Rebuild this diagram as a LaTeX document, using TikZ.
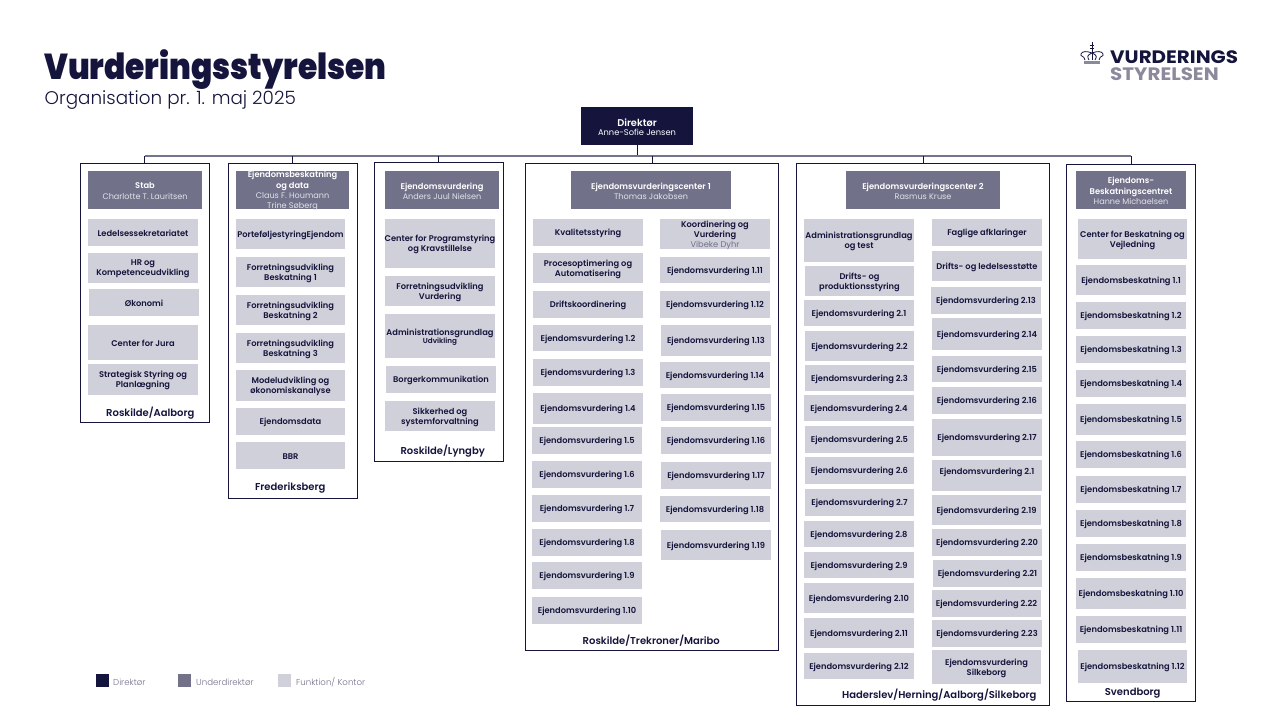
\documentclass[tikz,border=0pt]{standalone}
\usepackage{fontspec}
\setmainfont{Poppins}
\newfontfamily\fmed{Poppins SemiBold}
\newfontfamily\freg{Poppins}
\newfontfamily\flight{Poppins Light}
\newfontfamily\fbig{Poppins Black}[FakeStretch=0.868]
\newfontfamily\flogo{Poppins Bold}[FakeStretch=1.105]
\definecolor{navy}{HTML}{14143C}
\definecolor{midc}{HTML}{71718A}
\definecolor{lightc}{HTML}{D0D0DA}
\definecolor{namec}{HTML}{E2E2E9}
\definecolor{buscol}{HTML}{74748E}
\definecolor{logogrey}{HTML}{8A8A9C}
% a filled box, then its text lowered a little, as the reference has it
\newcommand\bxn[7]{\node[#1,minimum width={(#5-#3)*1pt},minimum height={(#6-#4)*1pt}] (#2) at ({(#3+#5)/2},{(#4+#6)/2}) {};
  \node[#1,fill=none,yshift=-1pt] (#2t) at (#2.center) {#7};}
\newcommand\bx[6]{\bxn{#1}{#1#2x#3}{#2}{#3}{#4}{#5}{#6}}
\newcommand\frm[5]{\node[frame,minimum width={(#4-#2)*1pt},minimum height={(#5-#3)*1pt}] (#1) at ({(#2+#4)/2},{(#3+#5)/2}) {};}
\newcommand\nm[1]{{\freg\fontsize{8.1}{10}\selectfont\color{namec}#1}}
\tikzset{
  fbox/.style={fill=lightc,text=navy,inner sep=0pt,align=center,font=\fmed\fontsize{8.3}{10}\selectfont},
  hbox/.style={fill=midc,text=white,inner sep=0pt,align=center,font=\fmed\fontsize{8.3}{10.3}\selectfont},
  dbox/.style={fill=navy,text=white,inner sep=0pt,align=center,font=\fmed\fontsize{9.8}{10.5}\selectfont},
  frame/.style={draw=navy,line width=1pt,fill=white,inner sep=0pt},
  place/.style={text=navy,inner sep=0pt,yshift=-.7pt,font=\fmed\fontsize{10}{12}\selectfont},
  legtxt/.style={text=midc,anchor=west,inner sep=0pt,font=\flight\fontsize{8.6}{9}\selectfont},
  stem/.style={draw=navy,line width=.9pt},
  busline/.style={draw=buscol,line width=1.3pt}
}
\begin{document}
\begin{tikzpicture}[x=1pt,y=-1pt]
\useasboundingbox (0,0) rectangle (1280,720);
\coordinate (bus) at (640,156);

% title
\node[anchor=base west,inner sep=0pt,text=navy,font=\fbig\fontsize{36}{38}\selectfont] (title) at (44,79) {Vurderingsstyrelsen};
\node[anchor=base west,inner sep=0pt,text=navy,font=\flight\fontsize{18.35}{20}\selectfont] (sub) at (44.5,104) {Organisation pr. 1. maj 2025};

% logo
\node[anchor=base west,inner sep=0pt,text=navy,font=\flogo\fontsize{18}{18}\selectfont] (logoa) at (1110,63.5) {VURDERINGS};
\node[anchor=base west,inner sep=0pt,text=logogrey,font=\flogo\fontsize{18}{18}\selectfont] (logob) at (1110,80) {STYRELSEN};
\draw[navy,line width=.8pt] (1085,60) .. controls (1084,55) and (1080,57) .. (1081,54) .. controls (1082,51) and (1087,51) .. (1092,53) .. controls (1097,51) and (1102,51) .. (1103,54) .. controls (1104,57) and (1100,55) .. (1099,60);
\draw[navy,line width=.8pt] (1089,60) .. controls (1087,57) and (1087,55) .. (1092,53) .. controls (1097,55) and (1097,57) .. (1095,60);
\draw[navy,line width=.8pt] (1092,42) -- (1092,60) (1090,45) -- (1094,45) (1090,48.5) -- (1094,48.5);
\fill[logogrey] (1084,60.5) rectangle (1100,64);

% frames
\frm{c1}{80}{163.5}{209.7}{422.5}
\frm{c2}{228.3}{163.5}{357.3}{498.7}
\frm{c3}{374.3}{162.5}{503.3}{461.5}
\frm{c4}{525.5}{163.5}{778.7}{650.5}
\frm{c5}{796.7}{163.5}{1049.7}{705.7}
\frm{c6}{1066.3}{164.5}{1195.7}{701.7}

% director
\bxn{dbox}{dir}{581}{107}{693}{145}{Direktør\\[-1pt]{\freg\fontsize{8.3}{10}\selectfont Anne-Sofie Jensen}}

% connectors
\draw[stem] (dir.south) -- (dir.south |- bus);
\draw[busline] (c1.north |- bus) -- (c6.north |- bus);
\foreach \c in {c1,c2,c3,c4,c5,c6} \draw[stem] (\c.north) -- (\c.north |- bus);

% heads
\bx{hbox}{88}{171}{202}{209}{Stab\\\nm{Charlotte T. Lauritsen}}
\bx{hbox}{236}{171}{349}{209}{Ejendomsbeskatning\\og data\\\nm{Claus F. Houmann}\\\nm{Trine Søberg}}
\bx{hbox}{385}{171}{499}{209}{Ejendomsvurdering\\\nm{Anders Juul Nielsen}}
\bx{hbox}{571}{171}{731}{209}{Ejendomsvurderingscenter 1\\\nm{Thomas Jakobsen}}
\bx{hbox}{846}{171}{1000}{209}{Ejendomsvurderingscenter 2\\\nm{Rasmus Kruse}}
\bx{hbox}{1076}{171}{1186}{209}{Ejendoms-\\Beskatningscentret\\\nm{Hanne Michaelsen}}

% column 1
\bx{fbox}{88}{219}{198}{246}{Ledelsessekretariatet}
\bx{fbox}{88}{253}{198}{283}{HR og\\Kompetenceudvikling}
\bx{fbox}{89}{289}{199}{316}{Økonomi}
\bx{fbox}{88}{325}{198}{360}{Center for Jura}
\bx{fbox}{88}{364}{198}{395}{Strategisk Styring og\\Planlægning}
\node[place] (p1) at (150.3,412) {Roskilde/Aalborg};

% column 2
\bx{fbox}{236}{219}{345}{249}{PorteføljestyringEjendom}
\bx{fbox}{236}{257}{345}{287}{Forretningsudvikling\\Beskatning 1}
\bx{fbox}{236}{295}{345}{325}{Forretningsudvikling\\Beskatning 2}
\bx{fbox}{236}{333}{345}{363}{Forretningsudvikling\\Beskatning 3}
\bx{fbox}{236}{370}{345}{401}{Modeludvikling og\\økonomiskanalyse}
\bx{fbox}{236}{408}{345}{435}{Ejendomsdata}
\bx{fbox}{236}{442}{345}{469}{BBR}
\node[place] (p2) at (290.3,487.3) {Frederiksberg};

% column 3
\bx{fbox}{385}{219}{495}{268}{Center for Programstyring\\og Kravstillelse}
\bx{fbox}{385}{276}{495}{306}{Forretningsudvikling\\Vurdering}
\bx{fbox}{385}{314}{495}{358}{Administrationsgrundlag\\[-2pt]{\fontsize{7.2}{8}\selectfont Udvikling}}
\bx{fbox}{386}{366}{496}{393}{Borgerkommunikation}
\bx{fbox}{385}{401}{495}{431}{Sikkerhed og\\systemforvaltning}
\node[place] (p3) at (442.7,450) {Roskilde/Lyngby};

% centre 1 left
\bx{fbox}{533}{219}{643}{246}{Kvalitetsstyring}
\bx{fbox}{533}{253}{643}{283}{Procesoptimering og\\Automatisering}
\bx{fbox}{533}{291}{643}{318}{Driftskoordinering}
\bx{fbox}{533}{325}{643}{351}{Ejendomsvurdering 1.2}
\bx{fbox}{533}{359}{643}{386}{Ejendomsvurdering 1.3}
\bx{fbox}{533}{393}{643}{424}{Ejendomsvurdering 1.4}
\bx{fbox}{532}{427}{642}{454}{Ejendomsvurdering 1.5}
\bx{fbox}{532}{461}{642}{488}{Ejendomsvurdering 1.6}
\bx{fbox}{532}{495}{642}{522}{Ejendomsvurdering 1.7}
\bx{fbox}{532}{529}{642}{556}{Ejendomsvurdering 1.8}
\bx{fbox}{532}{562}{642}{589}{Ejendomsvurdering 1.9}
\bx{fbox}{532}{597}{642}{624}{Ejendomsvurdering 1.10}
\node[place] (p4) at (651.3,640) {Roskilde/Trekroner/Maribo};

% centre 1 right
\bx{fbox}{660}{219}{770}{249}{Koordinering og\\Vurdering\\{\freg\color{midc}Vibeke Dyhr}}
\bx{fbox}{660}{257}{770}{283}{Ejendomsvurdering 1.11}
\bx{fbox}{660}{291}{770}{318}{Ejendomsvurdering 1.12}
\bx{fbox}{661}{325}{771}{356}{Ejendomsvurdering 1.13}
\bx{fbox}{660}{362}{770}{388}{Ejendomsvurdering 1.14}
\bx{fbox}{661}{394}{771}{421}{Ejendomsvurdering 1.15}
\bx{fbox}{661}{427}{771}{454}{Ejendomsvurdering 1.16}
\bx{fbox}{661}{462}{771}{489}{Ejendomsvurdering 1.17}
\bx{fbox}{660}{496}{770}{522}{Ejendomsvurdering 1.18}
\bx{fbox}{661}{530}{771}{560}{Ejendomsvurdering 1.19}

% centre 2 left
\bx{fbox}{804}{219}{914}{262}{Administrationsgrundlag\\og test}
\bx{fbox}{805}{266}{914}{296}{Drifts- og\\produktionsstyring}
\bx{fbox}{804}{300}{914}{326}{Ejendomsvurdering 2.1}
\bx{fbox}{805}{331}{914}{361}{Ejendomsvurdering 2.2}
\bx{fbox}{805}{365}{914}{391}{Ejendomsvurdering 2.3}
\bx{fbox}{804}{395}{914}{421}{Ejendomsvurdering 2.4}
\bx{fbox}{805}{426}{914}{453}{Ejendomsvurdering 2.5}
\bx{fbox}{805}{457}{914}{484}{Ejendomsvurdering 2.6}
\bx{fbox}{805}{489}{914}{516}{Ejendomsvurdering 2.7}
\bx{fbox}{804}{521}{914}{547}{Ejendomsvurdering 2.8}
\bx{fbox}{804}{552}{914}{578}{Ejendomsvurdering 2.9}
\bx{fbox}{804}{583}{914}{613}{Ejendomsvurdering 2.10}
\bx{fbox}{804}{618}{914}{648}{Ejendomsvurdering 2.11}
\bx{fbox}{804}{653}{914}{679}{Ejendomsvurdering 2.12}
\node[place] (p5) at (939.3,694.3) {Haderslev/Herning/Aalborg/Silkeborg};

% centre 2 right
\bx{fbox}{932}{219}{1042}{246}{Faglige afklaringer}
\bx{fbox}{932}{251}{1042}{281}{Drifts- og ledelsesstøtte}
\bx{fbox}{931}{287}{1041}{314}{Ejendomsvurdering 2.13}
\bx{fbox}{932}{318}{1042}{350}{Ejendomsvurdering 2.14}
\bx{fbox}{932}{356}{1042}{382}{Ejendomsvurdering 2.15}
\bx{fbox}{932}{387}{1042}{414}{Ejendomsvurdering 2.16}
\bx{fbox}{932}{419}{1042}{456}{Ejendomsvurdering 2.17}
\bx{fbox}{932}{460}{1042}{491}{\raisebox{11pt}{Ejendomsvurdering 2.1}}
\bx{fbox}{932}{495}{1041}{525}{Ejendomsvurdering 2.19}
\bx{fbox}{932}{529}{1042}{556}{Ejendomsvurdering 2.20}
\bx{fbox}{933}{560}{1042}{587}{Ejendomsvurdering 2.21}
\bx{fbox}{932}{590}{1041}{617}{Ejendomsvurdering 2.22}
\bx{fbox}{932}{620}{1042}{647}{Ejendomsvurdering 2.23}
\bx{fbox}{932}{650}{1041}{684}{Ejendomsvurdering\\Silkeborg}

% last column
\bx{fbox}{1078}{219}{1187}{259}{Center for Beskatning og\\Vejledning}
\bx{fbox}{1076}{265}{1186}{295}{Ejendomsbeskatning 1.1}
\bx{fbox}{1076}{302}{1186}{329}{Ejendomsbeskatning 1.2}
\bx{fbox}{1076}{336}{1186}{363}{Ejendomsbeskatning 1.3}
\bx{fbox}{1076}{370}{1186}{397}{Ejendomsbeskatning 1.4}
\bx{fbox}{1076}{404}{1186}{435}{Ejendomsbeskatning 1.5}
\bx{fbox}{1076}{441}{1186}{468}{Ejendomsbeskatning 1.6}
\bx{fbox}{1076}{476}{1186}{503}{Ejendomsbeskatning 1.7}
\bx{fbox}{1076}{510}{1186}{537}{Ejendomsbeskatning 1.8}
\bx{fbox}{1076}{544}{1186}{571}{Ejendomsbeskatning 1.9}
\bx{fbox}{1076}{578}{1186}{609}{Ejendomsbeskatning 1.10}
\bx{fbox}{1076}{616}{1186}{643}{Ejendomsbeskatning 1.11}
\bx{fbox}{1078}{650}{1187}{683}{Ejendomsbeskatning 1.12}
\node[place] (p6) at (1132.7,692.3) {Svendborg};

% legend
\fill[navy] (96,674) rectangle (109,687);
\fill[midc] (178,674) rectangle (191,687);
\fill[lightc] (278,674) rectangle (291,687);
\node[legtxt] (l1) at (113,682) {Direktør};
\node[legtxt] (l2) at (196,682) {Underdirektør};
\node[legtxt] (l3) at (296,682) {Funktion/ Kontor};
\end{tikzpicture}
\end{document}
